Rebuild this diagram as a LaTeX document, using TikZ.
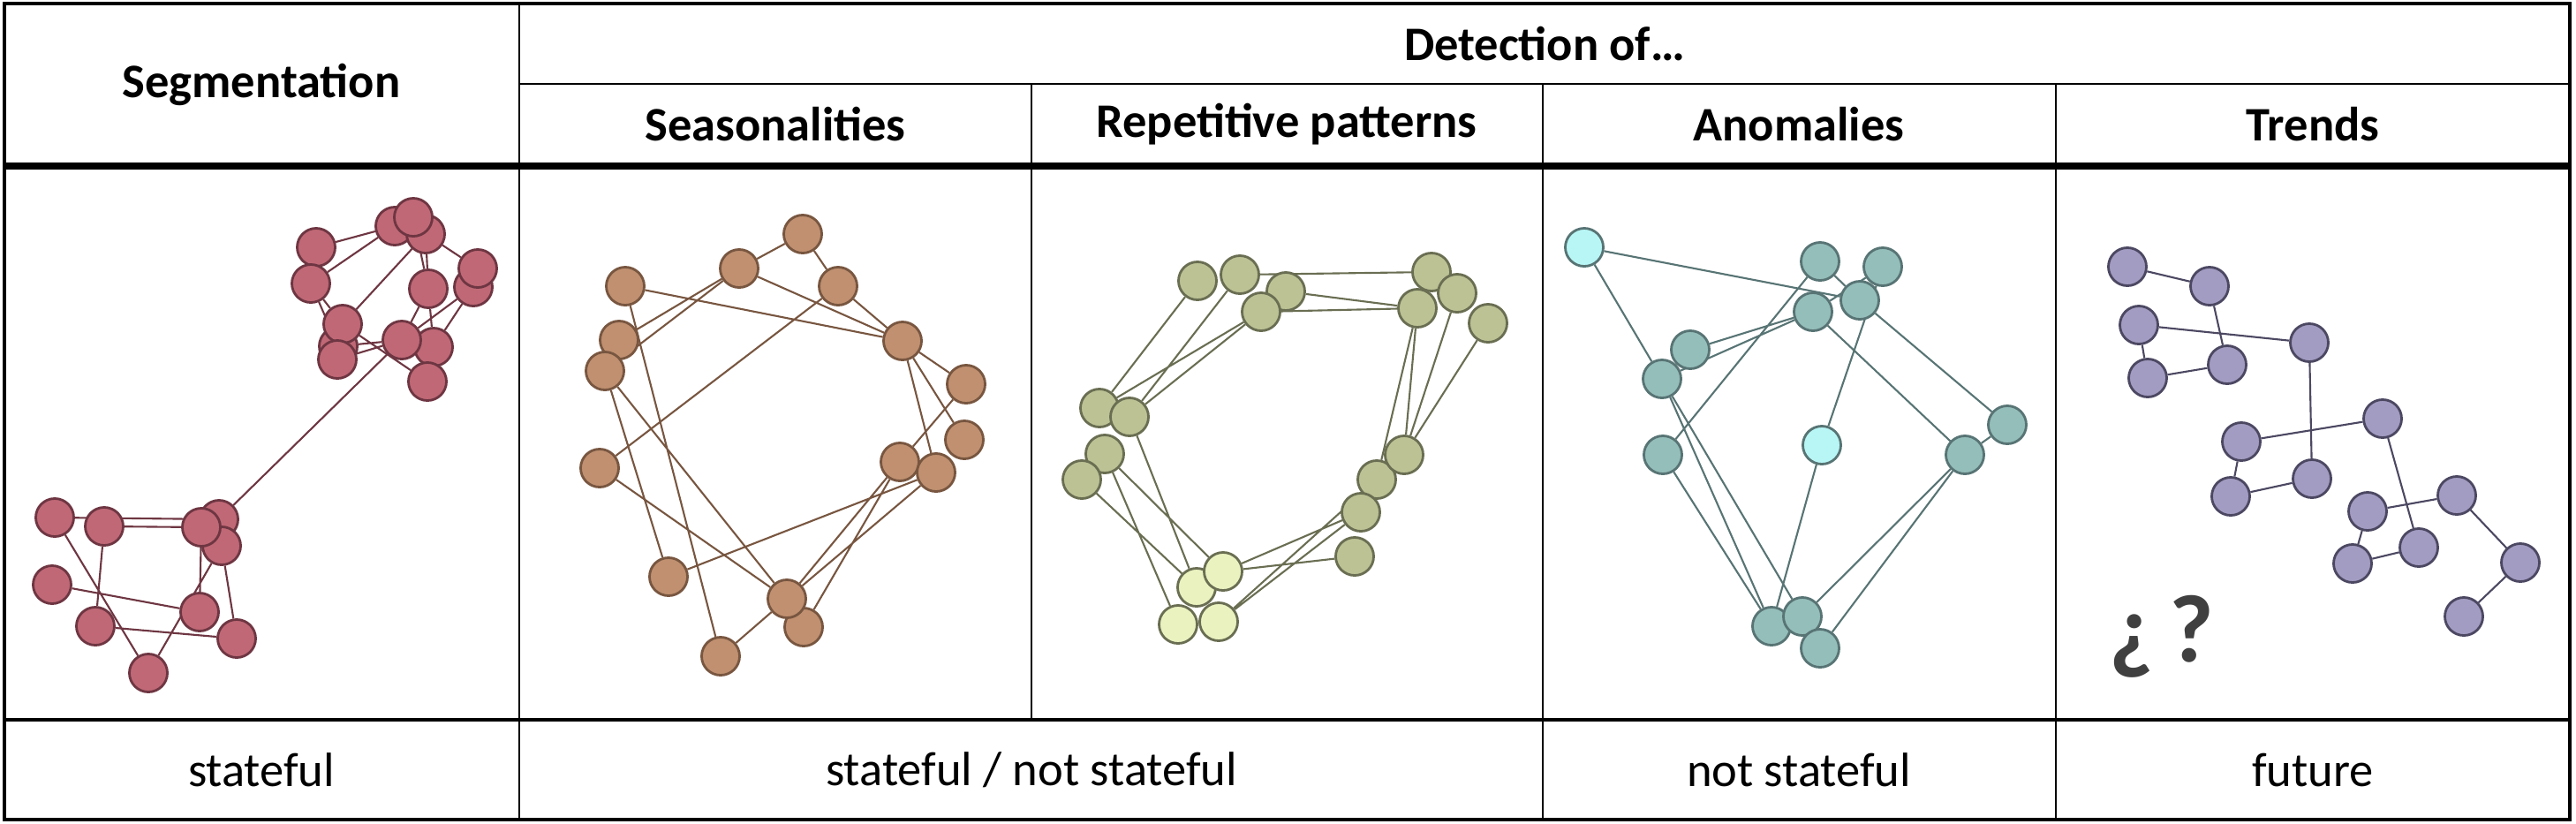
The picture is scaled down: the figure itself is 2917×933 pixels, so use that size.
\documentclass[tikz,border=0pt]{standalone}
\usepackage{fontspec}
\setmainfont{Carlito}
\usepackage{xcolor}
\usepackage{tikz}
\usetikzlibrary{backgrounds}
\definecolor{segfill}{HTML}{C06876}
\definecolor{segline}{HTML}{6E3642}
\definecolor{seafill}{HTML}{C09070}
\definecolor{sealine}{HTML}{785640}
\definecolor{repfill}{HTML}{BCC294}
\definecolor{replight}{HTML}{EAF2C0}
\definecolor{repline}{HTML}{6A6E52}
\definecolor{anofill}{HTML}{94BEBA}
\definecolor{anolight}{HTML}{B8F6F6}
\definecolor{anoline}{HTML}{587474}
\definecolor{trefill}{HTML}{A39CC2}
\definecolor{treline}{HTML}{4C4862}
\definecolor{qmark}{HTML}{404040}

\begin{document}
\begin{tikzpicture}[x=0.01cm, y=-0.01cm,
    dot/.style={circle, minimum size=0.43cm, inner sep=0pt, line width=0.8pt},
    seg/.style={dot, draw=segline, fill=segfill},
    sea/.style={dot, draw=sealine, fill=seafill},
    rep/.style={dot, draw=repline, fill=repfill},
    repl/.style={rep, fill=replight},
    ano/.style={dot, draw=anoline, fill=anofill},
    anol/.style={ano, fill=anolight},
    tre/.style={dot, draw=treline, fill=trefill},
    link/.style={line width=0.6pt},
    head/.style={font=\fontsize{15.5}{18}\selectfont\bfseries},
    foot/.style={font=\fontsize{15.5}{18}\selectfont}
]
    \useasboundingbox (0,0) rectangle (2917,933);

    % Table
    \draw[line width=1pt] (5,4) rectangle (2910,928);
    \draw[line width=2pt] (5,188) -- (2910,188);
    \draw[line width=1.2pt] (5,815) -- (2910,815);
    \draw[line width=0.8pt] (588,4) -- (588,928);
    \draw[line width=0.8pt] (588,95) -- (2910,95);
    \draw[line width=0.8pt] (1168,95) -- (1168,815);
    \draw[line width=0.8pt] (1747,95) -- (1747,928);
    \draw[line width=0.8pt] (2328,95) -- (2328,928);

    \node[head] (hseg) at (296,96) {Segmentation};
    \node[head] (hdet) at (1749,50) {Detection of…};
    \node[head] (hsea) at (878,141) {Seasonalities};
    \node[head] (hrep) at (1457,141) {Repetitive patterns};
    \node[head] (hano) at (2037,141) {Anomalies};
    \node[head] (htre) at (2619,141) {Trends};

    \node[foot] (fseg) at (296,872) {stateful};
    \node[foot] (fsea) at (1168,872) {stateful / not stateful};
    \node[foot] (fano) at (2037,872) {not stateful};
    \node[foot] (ftre) at (2619,872) {future};

    % Segmentation
    \node[seg] (sg1) at (447,256) {};
    \node[seg] (sg3) at (482,265) {};
    \node[seg] (sg2) at (468,246) {};
    \node[seg] (sg4) at (358,280) {};
    \node[seg] (sg5) at (352,321) {};
    \node[seg] (sg7) at (536,325) {};
    \node[seg] (sg8) at (541,304) {};
    \node[seg] (sg6) at (485,327) {};
    \node[seg] (sg10) at (383,392) {};
    \node[seg] (sg9) at (388,367) {};
    \node[seg] (sg11) at (382,407) {};
    \node[seg] (sg13) at (491,393) {};
    \node[seg] (sg12) at (455,385) {};
    \node[seg] (sg14) at (484,432) {};
    \node[seg] (sg15) at (62,586) {};
    \node[seg] (sg16) at (118,596) {};
    \node[seg] (sg17) at (248,588) {};
    \node[seg] (sg18) at (251,618) {};
    \node[seg] (sg19) at (228,597) {};
    \node[seg] (sg20) at (59,662) {};
    \node[seg] (sg21) at (108,709) {};
    \node[seg] (sg22) at (226,693) {};
    \node[seg] (sg23) at (268,723) {};
    \node[seg] (sg24) at (168,762) {};

    % Seasonalities
    \node[sea] (ss1) at (909,265) {};
    \node[sea] (ss2) at (837,304) {};
    \node[sea] (ss3) at (949,324) {};
    \node[sea] (ss4) at (708,324) {};
    \node[sea] (ss5) at (701,385) {};
    \node[sea] (ss6) at (685,420) {};
    \node[sea] (ss7) at (1022,386) {};
    \node[sea] (ss8) at (1094,435) {};
    \node[sea] (ss9) at (1092,498) {};
    \node[sea] (ss10) at (1019,523) {};
    \node[sea] (ss11) at (1060,535) {};
    \node[sea] (ss12) at (679,530) {};
    \node[sea] (ss13) at (757,653) {};
    \node[sea] (ss14) at (910,710) {};
    \node[sea] (ss15) at (891,678) {};
    \node[sea] (ss16) at (816,743) {};

    % Repetitive patterns
    \node[rep] (rp1) at (1356,318) {};
    \node[rep] (rp2) at (1404,311) {};
    \node[rep] (rp3) at (1456,330) {};
    \node[rep] (rp4) at (1428,353) {};
    \node[rep] (rp5) at (1621,308) {};
    \node[rep] (rp6) at (1650,332) {};
    \node[rep] (rp7) at (1605,349) {};
    \node[rep] (rp8) at (1685,366) {};
    \node[rep] (rp9) at (1245,462) {};
    \node[rep] (rp11) at (1251,514) {};
    \node[rep] (rp10) at (1279,472) {};
    \node[rep] (rp12) at (1225,543) {};
    \node[rep] (rp14) at (1559,543) {};
    \node[rep] (rp13) at (1590,515) {};
    \node[rep] (rp15) at (1541,580) {};
    \node[rep] (rp16) at (1534,630) {};
    \node[repl] (rp17) at (1355,665) {};
    \node[repl] (rp18) at (1385,647) {};
    \node[repl] (rp19) at (1380,704) {};
    \node[repl] (rp20) at (1334,707) {};

    % Anomalies
    \node[anol] (an1) at (1794,280) {};
    \node[ano] (an2) at (2061,296) {};
    \node[ano] (an3) at (2132,302) {};
    \node[ano] (an5) at (2053,353) {};
    \node[ano] (an4) at (2106,340) {};
    \node[ano] (an6) at (1914,396) {};
    \node[ano] (an7) at (1882,429) {};
    \node[ano] (an8) at (2273,481) {};
    \node[anol] (an9) at (2063,504) {};
    \node[ano] (an10) at (1883,515) {};
    \node[ano] (an11) at (2225,515) {};
    \node[ano] (an12) at (2006,709) {};
    \node[ano] (an13) at (2041,698) {};
    \node[ano] (an14) at (2061,734) {};

    % Trends
    \node[tre] (tr1) at (2409,302) {};
    \node[tre] (tr2) at (2502,324) {};
    \node[tre] (tr3) at (2422,368) {};
    \node[tre] (tr4) at (2432,428) {};
    \node[tre] (tr5) at (2522,413) {};
    \node[tre] (tr6) at (2615,388) {};
    \node[tre] (tr7) at (2698,474) {};
    \node[tre] (tr8) at (2538,500) {};
    \node[tre] (tr9) at (2526,562) {};
    \node[tre] (tr10) at (2618,542) {};
    \node[tre] (tr11) at (2782,561) {};
    \node[tre] (tr12) at (2681,579) {};
    \node[tre] (tr13) at (2664,638) {};
    \node[tre] (tr14) at (2739,620) {};
    \node[tre] (tr15) at (2854,637) {};
    \node[tre] (tr16) at (2790,698) {};
    \node[text=qmark, font=\fontsize{31}{34}\selectfont\bfseries] (qm) at (2448,721) {¿\,?};

    % Connections
    \begin{scope}[on background layer]
    \draw[link, segline] (sg4) -- (sg1) (sg5) -- (sg1) (sg3) -- (sg8) (sg3) -- (sg6) (sg2) -- (sg6)
        (sg4) -- (sg5) (sg5) -- (sg9) (sg5) -- (sg10) (sg3) -- (sg9) (sg6) -- (sg12) (sg7) -- (sg12)
        (sg6) -- (sg13) (sg7) -- (sg13) (sg9) -- (sg14) (sg10) -- (sg12) (sg11) -- (sg12);
    \draw[link, segline] (sg15) -- (sg17) (sg16) -- (sg19) (sg15) -- (sg24) (sg16) -- (sg21)
        (sg20) -- (sg22) (sg21) -- (sg23) (sg19) -- (sg22) (sg18) -- (sg24) (sg18) -- (sg23)
        (sg17) -- (sg12);
    \draw[link, sealine] (ss2) -- (ss1) (ss1) -- (ss3) (ss3) -- (ss7) (ss2) -- (ss7) (ss4) -- (ss7)
        (ss5) -- (ss2) (ss6) -- (ss2) (ss3) -- (ss12) (ss4) -- (ss16) (ss6) -- (ss13) (ss6) -- (ss15)
        (ss12) -- (ss15) (ss13) -- (ss11) (ss7) -- (ss9) (ss7) -- (ss11) (ss7) -- (ss8) (ss8) -- (ss10)
        (ss10) -- (ss15) (ss10) -- (ss14) (ss11) -- (ss15) (ss15) -- (ss16);
    \draw[link, repline] (rp2) -- (rp5) (rp3) -- (rp7) (rp4) -- (rp7) (rp1) -- (rp9) (rp2) -- (rp10)
        (rp4) -- (rp9) (rp4) -- (rp10) (rp10) -- (rp17) (rp11) -- (rp18) (rp11) -- (rp20) (rp12) -- (rp17)
        (rp7) -- (rp14) (rp7) -- (rp13) (rp6) -- (rp13) (rp8) -- (rp13) (rp15) -- (rp18) (rp15) -- (rp19)
        (rp14) -- (rp19) (rp16) -- (rp18);
    \draw[link, anoline] (an1) -- (an4) (an1) -- (an7) (an2) -- (an4) (an3) -- (an5) (an3) -- (an9)
        (an5) -- (an6) (an5) -- (an7) (an2) -- (an10) (an5) -- (an11) (an4) -- (an8) (an8) -- (an11)
        (an7) -- (an12) (an7) -- (an13) (an10) -- (an12) (an9) -- (an12) (an11) -- (an13) (an11) -- (an14);
    \draw[link, treline] (tr1) -- (tr2) (tr2) -- (tr5) (tr3) -- (tr6) (tr3) -- (tr4) (tr4) -- (tr5)
        (tr6) -- (tr10) (tr8) -- (tr7) (tr8) -- (tr9) (tr9) -- (tr10) (tr7) -- (tr14) (tr12) -- (tr11)
        (tr12) -- (tr13) (tr13) -- (tr14) (tr11) -- (tr15) (tr15) -- (tr16);
    \end{scope}
\end{tikzpicture}
\end{document}
